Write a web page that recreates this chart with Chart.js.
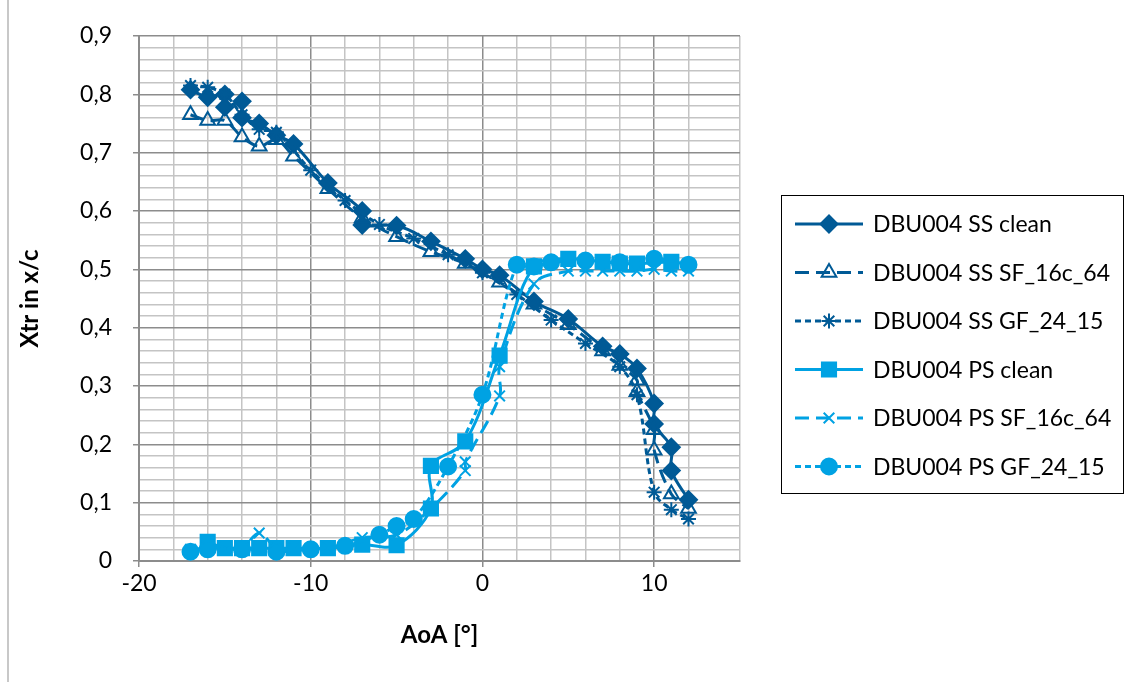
<!DOCTYPE html>
<html lang="en">
<head>
  <meta charset="UTF-8" />
  <title>Xtr vs AoA</title>
  <script src="https://cdn.jsdelivr.net/npm/chart.js"></script>
  <style>
    body {
      margin: 0;
      padding: 0;
      background: #fff;
    }
    #wrap {
      position: relative;
      width: 1133px;
      height: 682px;
    }
    #frame {
      position: absolute;
      left: 7px;
      top: 0;
      width: 1133px;
      height: 682px;
      border-left: 2px solid #c8c8c8;
    }
    canvas {
      position: absolute;
      left: 0;
      top: 0;
    }
  </style>
</head>
<body>
  <div id="wrap">
    <div id="frame"></div>
    <canvas id="myChart" width="1133" height="682"></canvas>
  </div>

  <script>
    // AoA [deg] and transition position per series
    const aoaSsClean = [-17, -16, -15, -15, -14, -14, -13, -12, -11, -9, -7, -7, -5, -3, -1, 0, 1, 3, 5, 7, 8, 9, 10, 10, 11, 11, 12];
    const xtrSsClean = [0.808, 0.795, 0.800, 0.778, 0.788, 0.760, 0.750, 0.730, 0.715, 0.648, 0.600, 0.576, 0.575, 0.548, 0.518, 0.500, 0.490, 0.445, 0.415, 0.368, 0.355, 0.330, 0.270, 0.235, 0.195, 0.155, 0.105];

    const aoaSsSf = [-17, -16, -15, -14, -13, -12, -11, -9, -7, -5, -3, -1, 1, 3, 5, 7, 8, 9, 9, 10, 10, 11, 12];
    const xtrSsSf = [0.765, 0.755, 0.755, 0.727, 0.711, 0.722, 0.694, 0.638, 0.588, 0.556, 0.530, 0.510, 0.478, 0.440, 0.405, 0.360, 0.335, 0.310, 0.290, 0.225, 0.190, 0.115, 0.090];

    const aoaSsGf = [-17, -16, -15, -14, -13, -12, -10, -8, -6, -4, -2, 0, 2, 4, 6, 8, 9, 10, 11, 12];
    const xtrSsGf = [0.815, 0.812, 0.800, 0.765, 0.740, 0.735, 0.670, 0.618, 0.577, 0.553, 0.525, 0.494, 0.457, 0.413, 0.373, 0.333, 0.285, 0.118, 0.088, 0.072];

    const aoaPsClean = [-16, -15, -14, -13, -12, -11, -9, -7, -5, -3, -3, -1, 1, 3, 5, 7, 8, 9, 11];
    const xtrPsClean = [0.033, 0.022, 0.022, 0.022, 0.022, 0.022, 0.022, 0.028, 0.027, 0.090, 0.163, 0.205, 0.352, 0.505, 0.518, 0.513, 0.510, 0.510, 0.513];

    const aoaPsSf = [-17, -16, -15, -14, -13, -12, -11, -9, -7, -5, -3, -1, -1, 1, 1, 3, 5, 6, 7, 8, 9, 10, 11, 12];
    const xtrPsSf = [0.020, 0.022, 0.022, 0.022, 0.048, 0.022, 0.022, 0.022, 0.040, 0.045, 0.090, 0.155, 0.170, 0.283, 0.333, 0.475, 0.497, 0.497, 0.497, 0.497, 0.497, 0.500, 0.497, 0.497];

    const aoaPsGf = [-17, -16, -14, -12, -10, -8, -6, -5, -4, -2, 0, 2, 3, 4, 6, 8, 10, 12];
    const xtrPsGf = [0.016, 0.020, 0.020, 0.016, 0.020, 0.026, 0.045, 0.060, 0.072, 0.162, 0.285, 0.508, 0.505, 0.512, 0.515, 0.512, 0.518, 0.508];

    const seriesLabels = [
      "DBU004 SS clean",
      "DBU004 SS SF_16c_64",
      "DBU004 SS GF_24_15",
      "DBU004 PS clean",
      "DBU004 PS SF_16c_64",
      "DBU004 PS GF_24_15"
    ];

    const DARK = "#005a96";
    const LIGHT = "#00a2e3";
    const MAJOR = "#8c8c8c";
    const MINOR = "#c4c4c4";
    const FONT = "Lato, 'Open Sans', sans-serif";

    const toPts = (xs, ys) => xs.map((x, i) => ({ x: x, y: ys[i] }));

    function series(label, xs, ys, color, dash, style, radius, fill, order) {
      return {
        label: label,
        data: toPts(xs, ys),
        showLine: true,
        tension: 0.35,
        borderColor: color,
        backgroundColor: fill,
        borderWidth: 3,
        borderDash: dash,
        pointStyle: style,
        pointRadius: radius,
        pointHoverRadius: radius,
        pointBorderColor: color,
        pointBackgroundColor: fill,
        pointBorderWidth: 2,
        order: order
      };
    }

    // legend drawn inside a framed box on the right, like the original
    const boxLegend = {
      id: "boxLegend",
      afterDraw(chart) {
        const ctx = chart.ctx;
        ctx.save();
        ctx.strokeStyle = "#000";
        ctx.lineWidth = 1;
        ctx.strokeRect(781.5, 195.5, 342, 298);
        chart.data.datasets.forEach((ds, i) => {
          const y = 224 + i * 48.5;
          ctx.strokeStyle = ds.borderColor;
          ctx.lineWidth = ds.borderWidth;
          ctx.setLineDash(ds.borderDash || []);
          ctx.beginPath();
          ctx.moveTo(795, y);
          ctx.lineTo(863, y);
          ctx.stroke();
          ctx.setLineDash([]);
          ctx.fillStyle = ds.pointBackgroundColor;
          ctx.strokeStyle = ds.pointBorderColor;
          ctx.lineWidth = ds.pointBorderWidth;
          Chart.helpers.drawPoint(ctx, {
            pointStyle: ds.pointStyle,
            radius: ds.pointRadius,
            rotation: 0,
            borderWidth: ds.pointBorderWidth
          }, 829, y);
          ctx.fillStyle = "#000";
          ctx.font = "23px " + FONT;
          ctx.textBaseline = "middle";
          ctx.textAlign = "left";
          ctx.fillText(ds.label, 873, y + 1);
        });
        ctx.restore();
      }
    };

    const isMajorX = v => Math.abs(v % 10) < 1e-6;
    const isMajorY = v => Math.abs(Math.round(v * 100) % 10) === 0;

    Chart.defaults.font.family = FONT;
    Chart.defaults.color = "#000";

    const ctx = document.getElementById("myChart").getContext("2d");
    new Chart(ctx, {
      type: "scatter",
      data: {
        datasets: [
          series(seriesLabels[0], aoaSsClean, xtrSsClean, DARK, [], "rectRot", 8.5, DARK, 6),
          series(seriesLabels[1], aoaSsSf, xtrSsSf, DARK, [14, 7], "triangle", 8.5, "rgba(255,255,255,0)", 5),
          series(seriesLabels[2], aoaSsGf, xtrSsGf, DARK, [6, 4], "star", 7.5, DARK, 4),
          series(seriesLabels[3], aoaPsClean, xtrPsClean, LIGHT, [], "rect", 10, LIGHT, 3),
          series(seriesLabels[4], aoaPsSf, xtrPsSf, LIGHT, [14, 7], "crossRot", 7.5, LIGHT, 2),
          series(seriesLabels[5], aoaPsGf, xtrPsGf, LIGHT, [6, 4], "circle", 8, LIGHT, 1)
        ]
      },
      options: {
        responsive: false,
        animation: false,
        layout: {
          padding: { left: 0, top: 36, right: 393, bottom: 0 }
        },
        plugins: {
          legend: { display: false },
          tooltip: { enabled: false }
        },
        scales: {
          x: {
            type: "linear",
            min: -20,
            max: 15,
            afterFit: s => { s.height = 121; },
            ticks: {
              stepSize: 2,
              autoSkip: false,
              maxRotation: 0,
              padding: 3,
              font: { size: 23 },
              callback: v => (isMajorX(v) && v <= 10 ? String(v) : "")
            },
            grid: {
              color: c => (c.tick && isMajorX(c.tick.value) ? MAJOR : MINOR),
              tickColor: c => (c.tick && isMajorX(c.tick.value) ? MAJOR : "rgba(0,0,0,0)"),
              tickLength: 6,
              lineWidth: 1.5
            },
            border: { color: MAJOR, width: 2 },
            title: {
              display: true,
              text: "AoA [°]",
              font: { size: 24, weight: "bold" },
              padding: { top: 0, bottom: 32 }
            }
          },
          y: {
            type: "linear",
            min: 0,
            max: 0.9,
            afterFit: s => { s.width = 139; },
            ticks: {
              stepSize: 0.02,
              autoSkip: false,
              padding: 21,
              font: { size: 23 },
              callback: v => {
                if (!isMajorY(v)) return "";
                const r = Math.round(v * 10) / 10;
                return r === 0 ? "0" : r.toFixed(1).replace(".", ",");
              }
            },
            grid: {
              color: c => (c.tick && isMajorY(c.tick.value) ? MAJOR : MINOR),
              tickColor: c => (c.tick && isMajorY(c.tick.value) ? MAJOR : "rgba(0,0,0,0)"),
              tickLength: 6,
              lineWidth: 1.5
            },
            border: { color: MAJOR, width: 2 },
            title: {
              display: true,
              text: "Xtr in x/c",
              font: { size: 24, weight: "bold" },
              padding: { top: 16, bottom: 0 }
            }
          }
        }
      },
      plugins: [boxLegend]
    });
  </script>
</body>
</html>
